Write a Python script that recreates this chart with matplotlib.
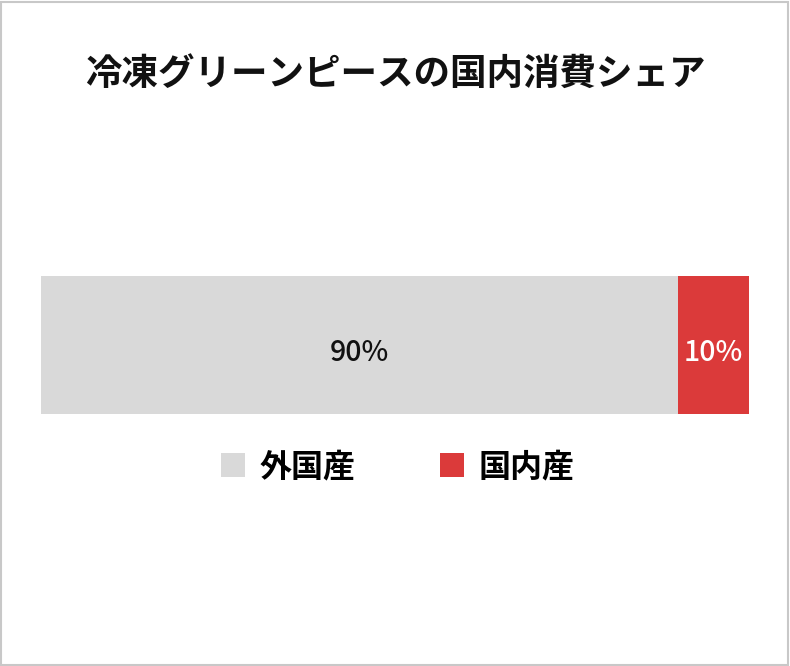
import matplotlib.pyplot as plt
from matplotlib.patches import Patch, Rectangle

plt.rcParams['font.family'] = ['Noto Sans CJK JP', 'DejaVu Sans']

title = '冷凍グリーンピースの国内消費シェア'
labels = ['外国産', '国内産']
shares = [90, 10]
colors = ['#d9d9d9', '#db3a3a']
text_colors = ['#111111', '#ffffff']

fig = plt.figure(figsize=(7.9, 6.66), dpi=100)

# outer frame
fig.patches.append(Rectangle((0.001, 0.0015), 0.997, 0.996, transform=fig.transFigure,
                             fill=False, edgecolor='#c8c8c8', linewidth=1.5))

fig.text(0.5, 1 - 74 / 666, title, ha='center', va='center', fontsize=26.3, fontweight='bold', color='#111111')

ax = fig.add_axes([41 / 790, 1 - 414 / 666, 708 / 790, 138 / 666])
left = 0
for lab, val, c, tc in zip(labels, shares, colors, text_colors):
    ax.barh(0, val, left=left, height=1, color=c, edgecolor='none')
    ax.text(left + val / 2, -0.055, f'{val}%', ha='center', va='center', fontsize=20.5,
            fontweight='medium', color=tc)
    left += val
ax.set_xlim(0, 100)
ax.set_ylim(-0.5, 0.5)
ax.axis('off')

handles = [Patch(facecolor=c, edgecolor='none') for c in colors]
fig.legend(handles, labels, loc='center', bbox_to_anchor=(398 / 790, 1 - 467 / 666), ncol=2,
           frameon=False, prop={'weight': 'bold', 'size': 23},
           handlelength=0.75, handleheight=0.75, handletextpad=0.45, columnspacing=2.65)

fig.savefig('out.png', dpi=100)
